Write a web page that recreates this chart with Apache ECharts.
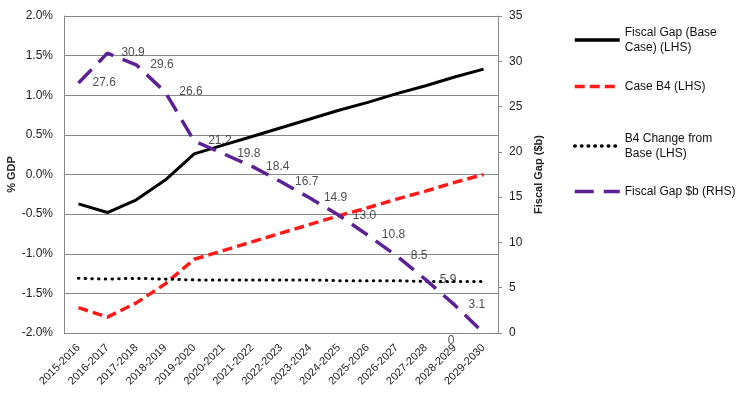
<!DOCTYPE html>
<html>
<head>
<meta charset="utf-8">
<script src="https://cdn.jsdelivr.net/npm/echarts@6/dist/echarts.min.js"></script>
<style>
  html, body { margin: 0; padding: 0; background: #fff; }
  #main { width: 754px; height: 398px; }
</style>
</head>
<body>
<div id="main"></div>
<script>
// categories (fiscal years)
var years = ['2015-2016', '2016-2017', '2017-2018', '2018-2019', '2019-2020', '2020-2021',
  '2021-2022', '2022-2023', '2023-2024', '2024-2025', '2025-2026', '2026-2027',
  '2027-2028', '2028-2029', '2029-2030'];

// % GDP (LHS)
var baseCase = [-0.37, -0.48, -0.32, -0.07, 0.26, 0.37, 0.48, 0.59, 0.70, 0.81, 0.91, 1.02, 1.12, 1.23, 1.33];
var caseB4 = [-1.68, -1.80, -1.62, -1.38, -1.07, -0.96, -0.85, -0.74, -0.63, -0.52, -0.42, -0.31, -0.21, -0.10, 0.00];
var b4Change = [-1.31, -1.32, -1.31, -1.32, -1.33, -1.33, -1.33, -1.33, -1.33, -1.34, -1.34, -1.34, -1.35, -1.35, -1.35];

// $b (RHS)
var fiscalGapB = [27.6, 30.9, 29.6, 26.6, 21.2, 19.8, 18.4, 16.7, 14.9, 13.0, 10.8, 8.5, 5.9, 3.1, 0];

var names = ['Fiscal Gap (Base Case) (LHS)', 'Case B4 (LHS)', 'B4 Change from Base (LHS)', 'Fiscal Gap $b (RHS)'];
var legendText = {
  'Fiscal Gap (Base Case) (LHS)': 'Fiscal Gap (Base\nCase) (LHS)',
  'Case B4 (LHS)': 'Case B4 (LHS)',
  'B4 Change from Base (LHS)': 'B4 Change from\nBase (LHS)',
  'Fiscal Gap $b (RHS)': 'Fiscal Gap $b (RHS)'
};
var purple = '#5c2194';
var font = 'Liberation Sans, Arial, sans-serif';

function legendAt(name, top) {
  return {
    data: [name],
    left: 573,
    top: top,
    padding: 0,
    orient: 'vertical',
    itemWidth: 45,
    itemHeight: 12,
    selectedMode: false,
    itemStyle: { opacity: 0 },
    lineStyle: { width: 3.5 },
    formatter: function (n) { return legendText[n]; },
    textStyle: { fontFamily: font, fontSize: 12, color: '#111', lineHeight: 15 }
  };
}

var labelData = fiscalGapB.map(function (v, i) {
  if (i === fiscalGapB.length - 1) {
    return { value: v, label: { position: 'left', distance: 29, offset: [0, 8] } };
  }
  return v;
});

var myChart = echarts.init(document.getElementById('main'));
myChart.setOption({
  animation: false,
  textStyle: { fontFamily: font },
  grid: { left: 64, right: 256, top: 16, bottom: 65, outerBoundsMode: 'none', containLabel: false },
  legend: [
    legendAt(names[0], 25),
    legendAt(names[1], 79),
    legendAt(names[2], 131),
    legendAt(names[3], 184)
  ],
  xAxis: {
    type: 'category',
    data: years,
    boundaryGap: true,
    axisLine: { lineStyle: { color: '#888' } },
    axisTick: { show: false },
    axisLabel: { interval: 0, rotate: 45, fontSize: 11, color: '#222', margin: 13 }
  },
  yAxis: [{
    type: 'value',
    min: -2, max: 2, interval: 0.5,
    name: '% GDP',
    nameLocation: 'middle',
    nameGap: 47,
    nameMoveOverlap: false,
    nameTextStyle: { fontSize: 11, fontWeight: 'bold', color: '#222' },
    axisLine: { show: true, lineStyle: { color: '#888' } },
    axisTick: { show: false },
    splitLine: { lineStyle: { color: '#888' } },
    axisLabel: { fontSize: 12, color: '#222', margin: 11,
      formatter: function (v) { return v.toFixed(1) + '%'; } }
  }, {
    type: 'value',
    min: 0, max: 35, interval: 5,
    position: 'right',
    name: 'Fiscal Gap ($b)',
    nameLocation: 'middle',
    nameGap: 34,
    nameRotate: 90,
    nameTextStyle: { fontSize: 11, fontWeight: 'bold', color: '#222' },
    axisLine: { show: true, lineStyle: { color: '#888' } },
    axisTick: { show: true, length: 4, lineStyle: { color: '#888' } },
    splitLine: { show: false },
    axisLabel: { fontSize: 12, color: '#222', margin: 11 }
  }],
  series: [{
    name: names[0],
    type: 'line',
    data: baseCase,
    symbol: 'none',
    itemStyle: { color: '#000' },
    lineStyle: { color: '#000', width: 3 }
  }, {
    name: names[1],
    type: 'line',
    data: caseB4,
    symbol: 'none',
    itemStyle: { color: '#ff1a1a' },
    lineStyle: { color: '#ff1a1a', width: 3.5, type: [10, 5] }
  }, {
    name: names[2],
    type: 'line',
    data: b4Change,
    symbol: 'none',
    itemStyle: { color: '#000' },
    lineStyle: { color: '#000', width: 3, type: [0.5, 6.2], cap: 'round' }
  }, {
    name: names[3],
    type: 'line',
    yAxisIndex: 1,
    data: fiscalGapB,
    symbol: 'none',
    itemStyle: { color: purple },
    lineStyle: { color: purple, width: 3.5, type: [19, 10] }
  }, {
    name: 'labels',
    type: 'scatter',
    yAxisIndex: 1,
    data: labelData,
    symbolSize: 0,
    silent: true,
    label: { show: true, position: 'right', distance: 14, fontSize: 12, color: '#222',
      formatter: function (p) { return p.value === 0 ? '0' : p.value.toFixed(1); } }
  }]
});
</script>
</body>
</html>
